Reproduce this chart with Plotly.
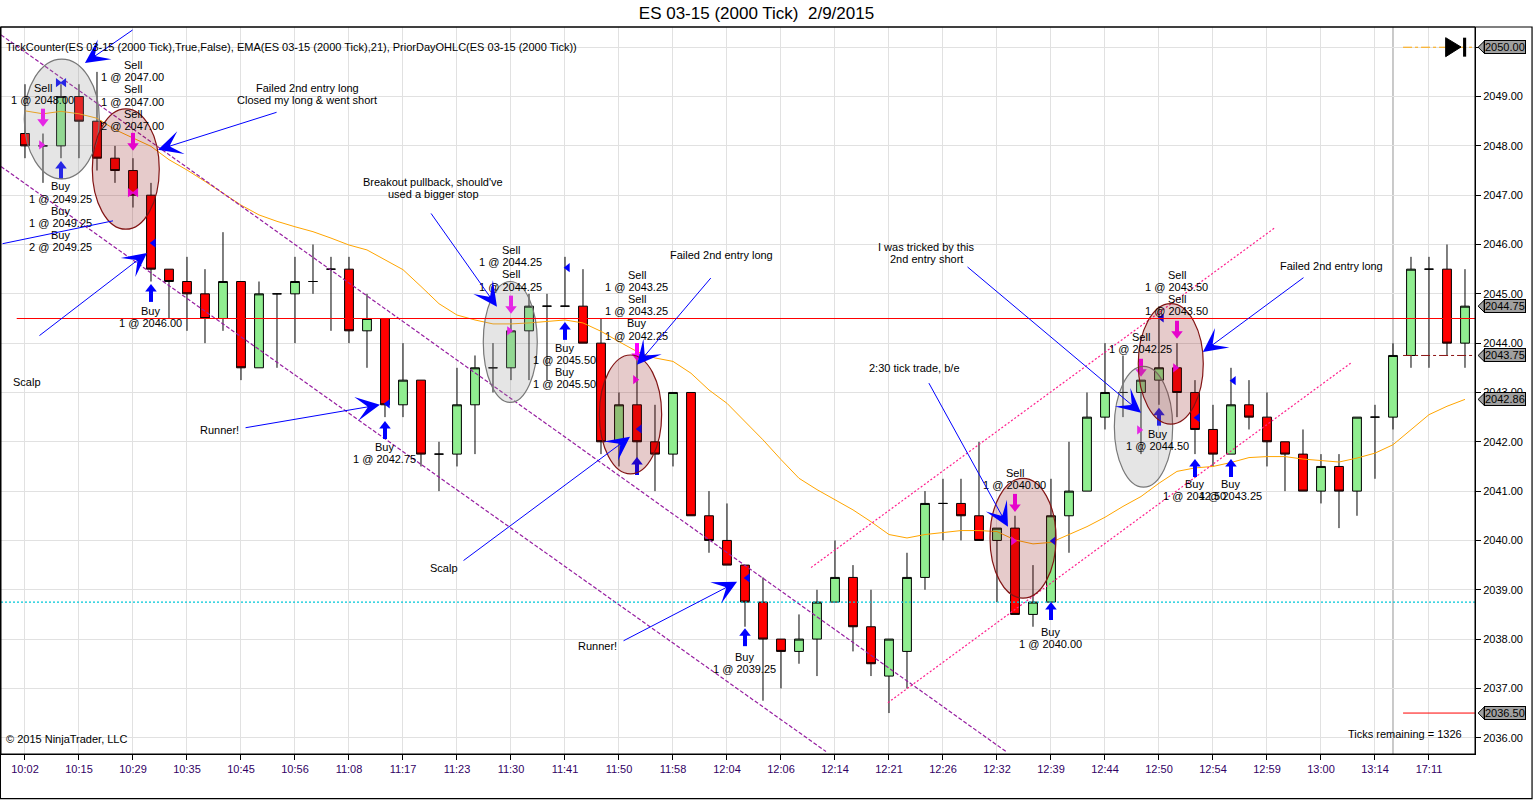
import plotly.graph_objects as go

# ES 03-15 (2000 Tick) 2/9/2015 - bar by bar
bars = list(range(81))
opens = [2048.25, 2048.00, 2048.00, 2049.00, 2048.50, 2047.75, 2047.50, 2047.00, 2045.50, 2045.25,
         2045.00, 2044.50, 2045.25, 2043.50, 2045.00, 2045.00, 2045.25, 2045.50, 2045.50, 2044.25,
         2044.50, 2042.75, 2043.25, 2041.75, 2041.75, 2042.75, 2043.50, 2043.50, 2044.25, 2044.75,
         2044.75, 2044.75, 2044.00, 2042.00, 2042.75, 2042.00, 2041.75, 2043.00, 2040.50, 2040.00,
         2039.50, 2038.75, 2038.00, 2037.75, 2038.00, 2038.75, 2039.25, 2038.25, 2037.25, 2037.75,
         2039.25, 2040.75, 2040.75, 2040.50, 2040.00, 2040.25, 2038.50, 2038.75, 2040.50, 2041.00,
         2042.50, 2043.00, 2043.00, 2043.25, 2043.50, 2043.00, 2042.25, 2041.75, 2042.75, 2042.50,
         2042.00, 2041.75, 2041.00, 2041.50, 2041.00, 2042.50, 2042.50, 2043.75, 2045.50, 2045.50,
         2044.00]
highs = [2049.25, 2048.25, 2049.25, 2049.25, 2049.50, 2048.00, 2047.75, 2047.25, 2045.50, 2045.75,
         2045.50, 2046.25, 2045.25, 2045.25, 2045.00, 2045.75, 2046.00, 2045.75, 2045.75, 2045.00,
         2044.50, 2044.00, 2043.25, 2042.00, 2043.50, 2043.75, 2044.00, 2044.50, 2045.00, 2045.00,
         2045.75, 2045.50, 2044.50, 2043.00, 2043.75, 2042.75, 2043.00, 2043.00, 2041.00, 2040.75,
         2039.50, 2039.25, 2038.00, 2038.50, 2039.00, 2040.00, 2039.50, 2039.00, 2038.00, 2039.75,
         2041.00, 2041.25, 2041.25, 2042.00, 2040.25, 2040.50, 2039.50, 2041.25, 2042.00, 2043.00,
         2044.00, 2043.75, 2043.25, 2044.75, 2044.00, 2043.25, 2042.75, 2043.50, 2043.25, 2043.00,
         2042.00, 2042.25, 2041.75, 2041.75, 2042.50, 2042.75, 2044.00, 2045.75, 2045.75, 2046.00,
         2045.50]
lows = [2047.75, 2047.25, 2047.75, 2047.75, 2047.50, 2047.25, 2046.75, 2045.25, 2044.50, 2044.25,
        2044.00, 2044.25, 2043.25, 2043.50, 2043.50, 2044.00, 2045.00, 2044.25, 2044.00, 2043.50,
        2042.50, 2042.50, 2041.50, 2041.00, 2041.50, 2041.75, 2043.00, 2043.25, 2043.25, 2043.25,
        2044.75, 2044.00, 2041.75, 2041.50, 2041.50, 2041.00, 2041.50, 2040.50, 2039.75, 2039.50,
        2038.25, 2036.75, 2037.00, 2037.50, 2037.25, 2038.75, 2037.75, 2037.25, 2036.50, 2037.00,
        2039.00, 2040.00, 2040.00, 2040.00, 2038.75, 2038.50, 2038.25, 2038.75, 2039.75, 2041.00,
        2042.25, 2042.50, 2041.75, 2042.75, 2042.50, 2041.75, 2041.50, 2041.75, 2042.25, 2041.50,
        2041.00, 2041.00, 2040.75, 2040.25, 2040.50, 2041.25, 2042.25, 2043.50, 2043.50, 2043.75,
        2043.50]
closes = [2048.00, 2048.00, 2049.00, 2048.50, 2047.75, 2047.50, 2047.00, 2045.50, 2045.25, 2045.00,
          2044.50, 2045.25, 2043.50, 2045.00, 2045.00, 2045.25, 2045.25, 2045.50, 2044.25, 2044.50,
          2042.75, 2043.25, 2041.75, 2041.75, 2042.75, 2043.50, 2043.50, 2044.25, 2044.75, 2044.75,
          2044.75, 2044.00, 2042.00, 2042.75, 2042.00, 2041.75, 2043.00, 2040.50, 2040.00, 2039.50,
          2038.75, 2038.00, 2037.75, 2038.00, 2038.75, 2039.25, 2038.25, 2037.50, 2038.00, 2039.25,
          2040.75, 2040.75, 2040.50, 2040.00, 2040.25, 2038.50, 2038.75, 2040.50, 2041.00, 2042.50,
          2043.00, 2043.00, 2043.25, 2043.50, 2043.00, 2042.25, 2041.75, 2042.75, 2042.50, 2042.00,
          2041.75, 2041.00, 2041.50, 2041.00, 2042.50, 2042.50, 2043.75, 2045.50, 2045.50, 2044.00,
          2044.75]
ema21 = [2048.71, 2048.65, 2048.70, 2048.65, 2048.56, 2048.33, 2048.16, 2047.99, 2047.72, 2047.51,
         2047.28, 2047.04, 2046.80, 2046.60, 2046.47, 2046.36, 2046.26, 2046.13, 2045.99, 2045.89,
         2045.69, 2045.49, 2045.15, 2044.80, 2044.57, 2044.47, 2044.39, 2044.39, 2044.41, 2044.44,
         2044.47, 2044.41, 2044.24, 2044.03, 2043.83, 2043.70, 2043.63, 2043.39, 2043.05, 2042.78,
         2042.41, 2042.04, 2041.64, 2041.26, 2041.03, 2040.82, 2040.62, 2040.38, 2040.12, 2040.05,
         2040.12, 2040.16, 2040.20, 2040.20, 2040.18, 2040.01, 2039.93, 2039.96, 2040.12, 2040.28,
         2040.47, 2040.69, 2040.89, 2041.16, 2041.40, 2041.47, 2041.50, 2041.58, 2041.68, 2041.70,
         2041.70, 2041.65, 2041.62, 2041.59, 2041.67, 2041.77, 2041.94, 2042.24, 2042.55, 2042.72,
         2042.86]

tick_bars = list(range(0, 81, 3))
tick_labels = ["10:02", "10:15", "10:29", "10:35", "10:45", "10:56", "11:08", "11:17", "11:23",
               "11:30", "11:41", "11:50", "11:58", "12:04", "12:06", "12:14", "12:21", "12:26",
               "12:32", "12:39", "12:44", "12:50", "12:54", "12:59", "13:00", "13:14", "17:11"]

# prior day / session levels
prior_day_level = 2044.50
prior_low_level = 2038.75
session_levels = [2050.00, 2043.75, 2036.50]
session_colors = ["orange", "rgb(140,20,20)", "red"]
session_dash = ["dashdot", "dashdot", "solid"]
price_tags = [2050.00, 2044.75, 2043.75, 2042.86, 2036.50]

# executions
sell_bars = [1, 6, 27, 34, 55, 62, 64]
sell_y = [2048.57, 2048.08, 2044.78, 2043.82, 2040.76, 2043.50, 2044.27]
buy_bars = [2, 7, 20, 30, 34, 40, 57, 63, 65, 67]
buy_y = [2047.51, 2045.02, 2042.24, 2044.25, 2041.51, 2038.04, 2038.57, 2042.51, 2041.47, 2041.47]
short_exit_bars = [1, 27, 34, 55, 62, 64]
short_exit_y = [2048.02, 2044.25, 2043.26, 2039.99, 2042.24, 2043.50]
long_exit_bars = [7, 20, 30, 34, 40, 57, 63, 65, 67]
long_exit_y = [2046.03, 2042.77, 2045.53, 2042.26, 2039.24, 2039.99, 2044.51, 2042.49, 2043.24]
bowtie_bars = [2, 6]
bowtie_y = [2049.28, 2047.05]
bowtie_colors = ["blue", "magenta"]

label_bars = [1.0, 6.0, 2.0, 7.0, 20.0, 27.0, 30.0, 34.0, 40.0, 55.0, 57.0, 62.0, 64.0, 62.9, 65.0, 67.0]
label_y = [2049.18, 2049.64, 2047.18, 2044.66, 2041.89, 2045.89, 2043.91, 2045.39, 2037.64,
           2041.37, 2038.14, 2044.13, 2045.39, 2042.16, 2041.14, 2041.14]
label_lines = [
    ["Sell", "1 @ 2048.00"],
    ["Sell", "1 @ 2047.00", "Sell", "1 @ 2047.00", "Sell", "2 @ 2047.00"],
    ["Buy", "1 @ 2049.25", "Buy", "1 @ 2049.25", "Buy", "2 @ 2049.25"],
    ["Buy", "1 @ 2046.00"],
    ["Buy", "1 @ 2042.75"],
    ["Sell", "1 @ 2044.25", "Sell", "1 @ 2044.25"],
    ["Buy", "1 @ 2045.50", "Buy", "1 @ 2045.50"],
    ["Sell", "1 @ 2043.25", "Sell", "1 @ 2043.25", "Buy", "1 @ 2042.25"],
    ["Buy", "1 @ 2039.25"],
    ["Sell", "1 @ 2040.00"],
    ["Buy", "1 @ 2040.00"],
    ["Sell", "1 @ 2042.25"],
    ["Sell", "1 @ 2043.50", "Sell", "1 @ 2043.50"],
    ["Buy", "1 @ 2044.50"],
    ["Buy", "1 @ 2042.50"],
    ["Buy", "1 @ 2043.25"],
]

# hand drawn notes
note_x = [15.67, 22.67, 0.11, 10.83, 38.67, 23.28, 31.78, 50.06, 49.44, 72.61]
note_y = [2049.18, 2047.27, 2043.22, 2042.24, 2045.79, 2039.45, 2037.85, 2045.95, 2043.50, 2045.57]
note_lines = [
    ["Failed 2nd entry long", "Closed my long & went short"],
    ["Breakout pullback, should've", "used a bigger stop"],
    ["Scalp"],
    ["Runner!"],
    ["Failed 2nd entry long"],
    ["Scalp"],
    ["Runner!"],
    ["I was tricked by this", "2nd entry short"],
    ["2:30 tick trade, b/e"],
    ["Failed 2nd entry long"],
]
arrow_tail_x = [6.06, 14.06, 0.72, 22.5, 12.17, 38.17, 24.28, 33.17, 52.28, 50.17, 71.11]
arrow_tail_y = [2050.37, 2048.69, 2044.13, 2046.66, 2042.28, 2045.35, 2039.57, 2037.95, 2045.57, 2043.22, 2045.35]
arrow_head_x = [3.33, 7.39, 6.78, 26.22, 19.72, 34.0, 33.61, 39.56, 62.0, 54.61, 65.44]
arrow_head_y = [2049.68, 2047.92, 2045.83, 2044.74, 2042.75, 2043.56, 2042.10, 2039.16, 2042.59, 2040.28, 2043.82]
plain_line_x = [-1.33, 4.89]
plain_line_y = [2046.01, 2046.48]

# trend channels
down_chan_x = [[-1.33, 54.5], [-1.33, 44.5]]
down_chan_y = [[2050.25, 2035.72], [2047.58, 2035.72]]
up_chan_x = [[43.67, 69.44], [47.94, 73.67]]
up_chan_y = [[2039.45, 2046.34], [2036.71, 2043.60]]

# highlight ellipses
ell_x0 = [-0.04, 3.74, 25.46, 31.91, 53.61, 60.52, 61.85]
ell_x1 = [4.13, 7.46, 28.46, 35.37, 57.28, 63.76, 65.46]
ell_y0 = [2047.33, 2046.31, 2042.80, 2041.35, 2038.83, 2041.08, 2042.36]
ell_y1 = [2049.76, 2048.75, 2045.25, 2043.76, 2041.26, 2043.53, 2044.80]
ell_kind = ["gray", "red", "gray", "red", "red", "gray", "red"]

FONT = "Arial, Liberation Sans, sans-serif"
XR = [-1.333, 80.556]
YR = [2035.67, 2050.41]

fig = go.Figure()

fig.add_trace(go.Candlestick(
    x=bars, open=opens, high=highs, low=lows, close=closes,
    increasing=dict(line=dict(color="black", width=1), fillcolor="rgb(144,238,144)"),
    decreasing=dict(line=dict(color="black", width=1), fillcolor="rgb(255,0,0)"),
    whiskerwidth=0, hoverinfo="skip", showlegend=False))

fig.add_trace(go.Scatter(x=bars, y=ema21, mode="lines", line=dict(color="rgb(255,165,0)", width=1),
                         hoverinfo="skip", showlegend=False))

for cx, cy in zip(down_chan_x, down_chan_y):
    fig.add_trace(go.Scatter(x=cx, y=cy, mode="lines", showlegend=False, hoverinfo="skip",
                             line=dict(color="rgb(150,30,160)", width=1.2, dash="4px,2px")))
for cx, cy in zip(up_chan_x, up_chan_y):
    fig.add_trace(go.Scatter(x=cx, y=cy, mode="lines", showlegend=False, hoverinfo="skip",
                             line=dict(color="rgb(255,30,140)", width=1.2, dash="2px,2px")))

# sell arrows (magenta, down) = head + shaft
fig.add_trace(go.Scatter(x=sell_bars, y=[v - 0.08 for v in sell_y], mode="markers", showlegend=False,
                         hoverinfo="skip", marker=dict(symbol="triangle-down", size=10, color="magenta")))
fig.add_trace(go.Scatter(x=sell_bars, y=[v + 0.07 for v in sell_y], mode="markers", showlegend=False,
                         hoverinfo="skip",
                         marker=dict(symbol="line-ns", size=8, line=dict(color="magenta", width=4))))
# buy arrows (blue, up)
fig.add_trace(go.Scatter(x=buy_bars, y=[v + 0.08 for v in buy_y], mode="markers", showlegend=False,
                         hoverinfo="skip", marker=dict(symbol="triangle-up", size=10, color="blue")))
fig.add_trace(go.Scatter(x=buy_bars, y=[v - 0.07 for v in buy_y], mode="markers", showlegend=False,
                         hoverinfo="skip",
                         marker=dict(symbol="line-ns", size=8, line=dict(color="blue", width=4))))
# exits
fig.add_trace(go.Scatter(x=[b - 0.1 for b in short_exit_bars], y=short_exit_y, mode="markers",
                         showlegend=False, hoverinfo="skip",
                         marker=dict(symbol="triangle-right", size=8, color="magenta")))
fig.add_trace(go.Scatter(x=[b + 0.15 for b in long_exit_bars], y=long_exit_y, mode="markers",
                         showlegend=False, hoverinfo="skip",
                         marker=dict(symbol="triangle-left", size=8, color="blue")))
for b, v, c in zip(bowtie_bars, bowtie_y, bowtie_colors):
    fig.add_trace(go.Scatter(x=[b - 0.17, b + 0.17], y=[v, v], mode="markers", showlegend=False,
                             hoverinfo="skip",
                             marker=dict(symbol=["triangle-right", "triangle-left"], size=8, color=c)))

shapes = []
for e0, e1, f0, f1, k in zip(ell_x0, ell_x1, ell_y0, ell_y1, ell_kind):
    if k == "gray":
        fill, edge = "rgba(150,150,150,0.25)", "rgb(120,120,120)"
    else:
        fill, edge = "rgba(140,20,20,0.22)", "rgb(130,20,20)"
    shapes.append(dict(type="circle", xref="x", yref="y", x0=e0, x1=e1, y0=f0, y1=f1,
                       fillcolor=fill, line=dict(color=edge, width=1.2), layer="above"))

shapes.append(dict(type="line", xref="x", yref="y", x0=-0.46, x1=XR[1], y0=prior_day_level,
                   y1=prior_day_level, line=dict(color="red", width=1.2), layer="above"))
shapes.append(dict(type="line", xref="x", yref="y", x0=XR[0], x1=XR[1], y0=prior_low_level,
                   y1=prior_low_level, line=dict(color="rgb(0,200,215)", width=1.2, dash="2px,2px"),
                   layer="above"))
for lv, lc, ld in zip(session_levels, session_colors, session_dash):
    shapes.append(dict(type="line", xref="x", yref="y", x0=76.56, x1=XR[1], y0=lv, y1=lv,
                       line=dict(color=lc, width=1, dash=ld), layer="above"))
# session break
shapes.append(dict(type="line", xref="x", yref="paper", x0=76, x1=76, y0=0, y1=1,
                   line=dict(color="rgb(185,185,185)", width=1.5), layer="below"))
# plot frame and outer frame
shapes.append(dict(type="rect", xref="paper", yref="paper", x0=0, x1=1, y0=0, y1=1,
                   line=dict(color="black", width=1)))
shapes.append(dict(type="rect", xref="paper", yref="paper", x0=-0.0004, x1=1.0387, y0=-0.0615, y1=1,
                   line=dict(color="black", width=1.2)))
# "go to end" icon at top right
shapes.append(dict(type="path", xref="paper", yref="paper",
                   path="M0.9801,0.9853 L0.9905,0.9725 L0.9801,0.9592 Z",
                   fillcolor="black", line=dict(color="black", width=1)))
shapes.append(dict(type="rect", xref="paper", yref="paper", x0=0.9919, x1=0.9940, y0=0.9592, y1=0.9853,
                   fillcolor="black", line=dict(width=0)))

annotations = []
for b, v, lines in zip(label_bars, label_y, label_lines):
    for k, t in enumerate(lines):
        annotations.append(dict(x=b, y=v, xref="x", yref="y", text=t, showarrow=False,
                                yshift=-12.2 * k, font=dict(family=FONT, size=11, color="black")))
for nx, ny, lines in zip(note_x, note_y, note_lines):
    for k, t in enumerate(lines):
        annotations.append(dict(x=nx, y=ny, xref="x", yref="y", text=t, showarrow=False,
                                yshift=-12.2 * k, font=dict(family=FONT, size=11, color="black")))
for tx, ty, hx, hy in zip(arrow_tail_x, arrow_tail_y, arrow_head_x, arrow_head_y):
    annotations.append(dict(x=hx, y=hy, ax=tx, ay=ty, xref="x", yref="y", axref="x", ayref="y",
                            text="", showarrow=True, arrowhead=3, arrowsize=4, arrowwidth=1,
                            arrowcolor="blue", standoff=0, startstandoff=0))
annotations.append(dict(x=plain_line_x[1], y=plain_line_y[1], ax=plain_line_x[0], ay=plain_line_y[0],
                        xref="x", yref="y", axref="x", ayref="y", text="", showarrow=True,
                        arrowhead=0, arrowwidth=1, arrowcolor="blue", standoff=0))

# price tags on the right axis
for p in price_tags:
    annotations.append(dict(x=1, y=p, xref="paper", yref="y", xanchor="left", text="%.2f" % p,
                            showarrow=False, xshift=9, bgcolor="rgb(160,160,160)",
                            bordercolor="black", borderwidth=1, borderpad=0,
                            font=dict(family=FONT, size=11, color="black")))
    shapes.append(dict(type="path", xref="paper", yref="y",
                       path="M1.0021,%f L1.0062,%f L1.0062,%f Z" % (p, p + 0.12, p - 0.12),
                       fillcolor="rgb(160,160,160)", line=dict(color="black", width=1)))

annotations.append(dict(x=0.002, y=0.9835, xref="paper", yref="paper", xanchor="left",
                        text="TickCounter(ES 03-15 (2000 Tick),True,False), EMA(ES 03-15 (2000 Tick),21), "
                             "PriorDayOHLC(ES 03-15 (2000 Tick))",
                        showarrow=False, font=dict(family=FONT, size=11, color="black")))
annotations.append(dict(x=0.002, y=0.010, xref="paper", yref="paper", xanchor="left",
                        text="© 2015 NinjaTrader, LLC", showarrow=False,
                        font=dict(family=FONT, size=11, color="black")))
annotations.append(dict(x=0.9925, y=0.016, xref="paper", yref="paper", xanchor="right",
                        text="Ticks remaining = 1326", showarrow=False,
                        font=dict(family=FONT, size=11, color="black")))

fig.update_layout(
    width=1536, height=800,
    margin=dict(l=1, r=61, t=27, b=46),
    paper_bgcolor="white", plot_bgcolor="white",
    title=dict(text="ES 03-15 (2000 Tick)  2/9/2015", x=0.4925, xanchor="center", y=0.984,
               yanchor="middle", font=dict(family=FONT, size=17, color="black")),
    showlegend=False,
    shapes=shapes,
    annotations=annotations,
    xaxis=dict(range=XR, tickvals=tick_bars, ticktext=tick_labels, showgrid=True,
               gridcolor="rgb(225,225,225)", zeroline=False, ticks="outside", ticklen=5,
               tickcolor="black", showline=True, linecolor="black",
               tickfont=dict(family=FONT, size=11, color="rgb(50,0,100)"),
               rangeslider=dict(visible=False), fixedrange=True),
    yaxis=dict(range=YR, side="right", dtick=1, tick0=2036, tickformat=".2f", showgrid=True,
               gridcolor="rgb(225,225,225)", zeroline=False, ticks="outside", ticklen=5,
               tickcolor="black", showline=True, linecolor="black",
               tickfont=dict(family=FONT, size=11, color="black"), fixedrange=True),
)

# drop the default page margin so the 1536x800 figure sits at the window's corner
fig.write_html("out.html", config={"displayModeBar": False},
               post_script="document.body.style.margin='0';")
